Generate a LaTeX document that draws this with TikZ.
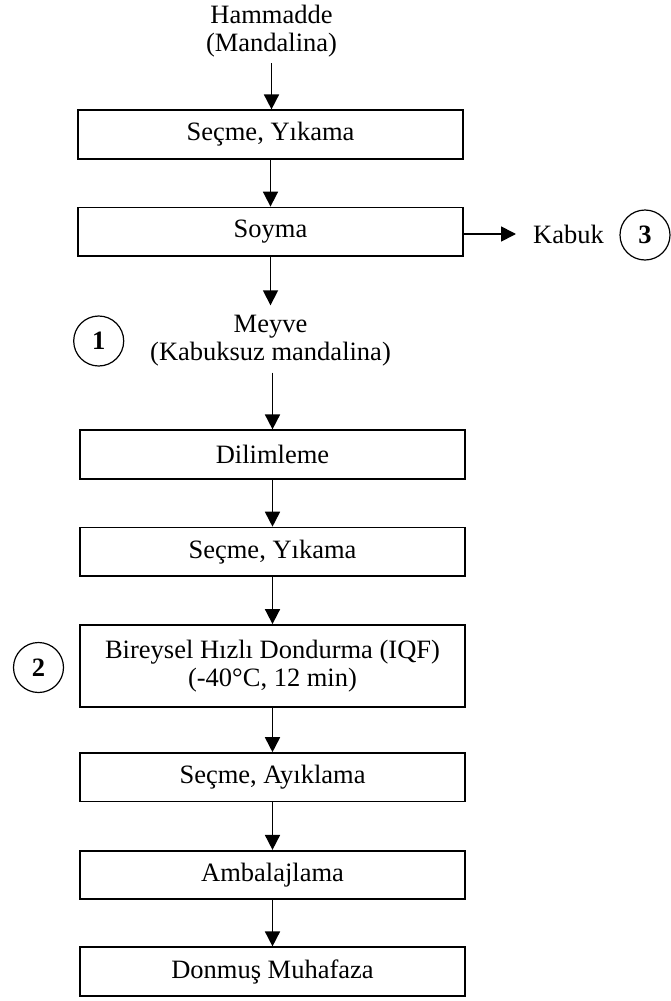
\documentclass[tikz,border=0pt]{standalone}
\usepackage{fontspec}
\setmainfont{Liberation Serif}
\usetikzlibrary{arrows.meta}
\newcommand\figfont{\fontsize{26.5}{28}\selectfont}
\begin{document}
\begin{tikzpicture}[x=1pt,y=-1pt,
  box/.style={draw,line width=1.7pt,minimum width=385pt,minimum height=48.5pt,inner sep=0pt,font=\figfont,align=center},
  lbl/.style={font=\figfont,align=center,inner sep=0pt},
  num/.style={draw,circle,line width=1.2pt,minimum size=50pt,inner sep=0pt,font=\figfont\bfseries},
  arr/.style={line width=1.7pt,-{Triangle[length=15pt,width=15pt]}}]
\useasboundingbox (0,0) rectangle (671,1001);
% nodes
\node[lbl] (t0) at (271.5,31) {Hammadde\\(Mandalina)};
\node[box] (b1) at (270.5,134.5) {Seçme, Yıkama};
\node[box] (b2) at (270.5,231.7) {Soyma};
\node[lbl,anchor=west] (k) at (533,234) {Kabuk};
\node[num] (c3) at (645,235) {3};
\node[lbl] (t1) at (270.5,341) {Meyve\\(Kabuksuz mandalina)};
\node[num] (c1) at (98.7,341) {1};
\node[box] (b3) at (272.5,454.5) {Dilimleme};
\node[box] (b4) at (272.5,551.8) {Seçme, Yıkama};
\node[box,minimum height=81.7pt] (b5) at (272.5,665.8) {Bireysel Hızlı Dondurma (IQF)\\(-40°C, 12 min)};
\node[num] (c2) at (38.5,667.5) {2};
\node[box] (b6) at (272.5,777.3) {Seçme, Ayıklama};
\node[box] (b7) at (272.5,875) {Ambalajlama};
\node[box] (b8) at (272.5,971.5) {Donmuş Muhafaza};
% connectors
\draw[arr] ([yshift=-6pt]t0.south) -- (t0.south |- b1.north);
\draw[arr] (b1.south) -- (b2.north);
\draw[arr] (b2.east |- k.west) -- ([xshift=-17pt]k.west);
\draw[arr] (b2.south) -- ([yshift=10pt]t1.north);
\draw[arr] ([yshift=-6pt]t1.south -| b3.north) -- (b3.north);
\draw[arr] (b3.south) -- (b4.north);
\draw[arr] (b4.south) -- (b5.north);
\draw[arr] (b5.south) -- (b6.north);
\draw[arr] (b6.south) -- (b7.north);
\draw[arr] (b7.south) -- (b8.north);
\end{tikzpicture}
\end{document}
